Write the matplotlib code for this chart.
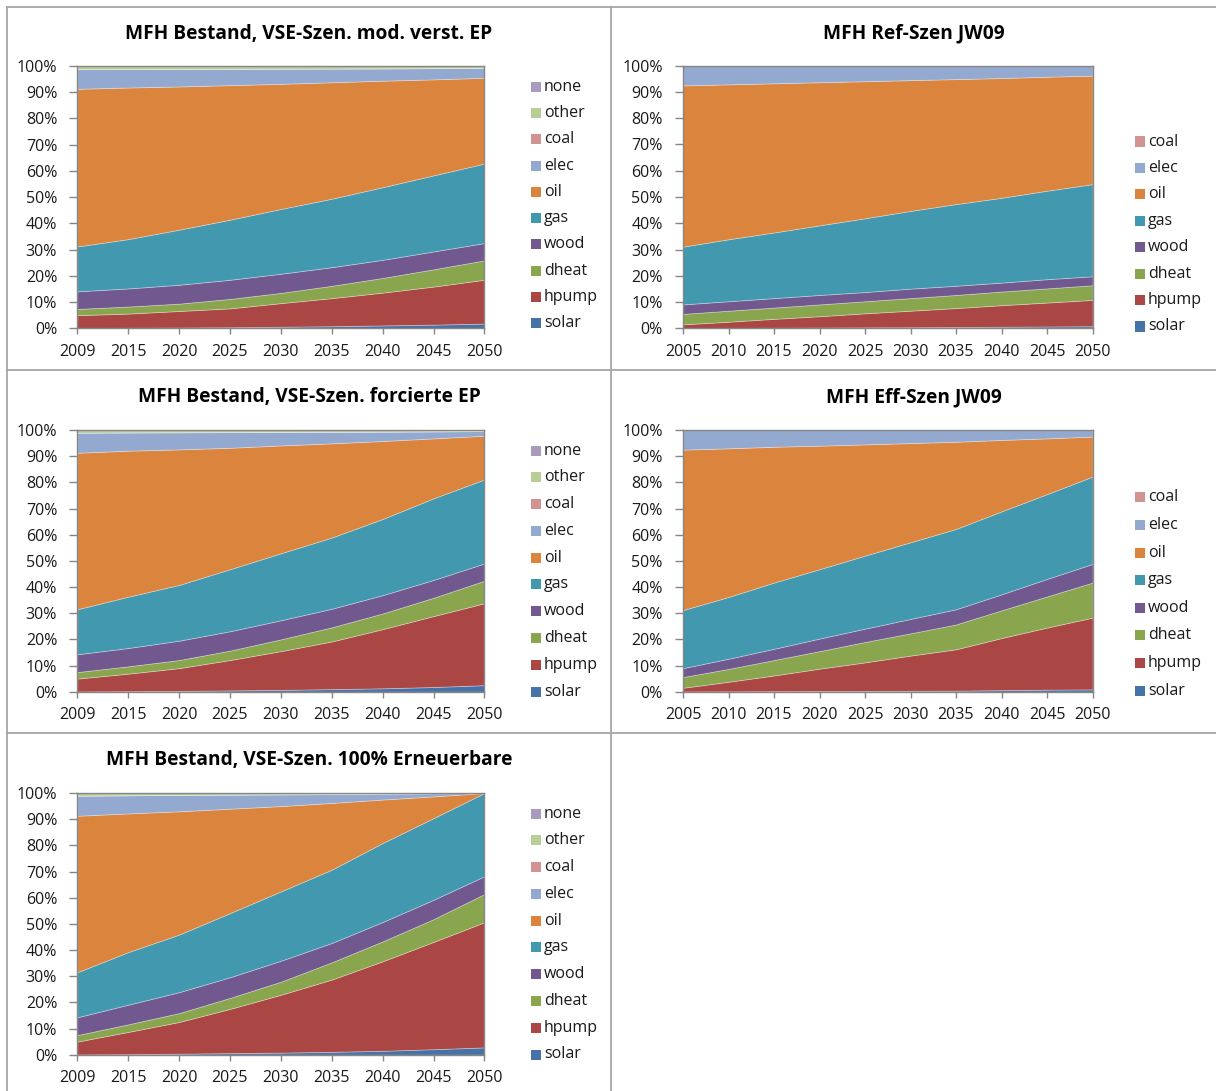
import numpy as np
import matplotlib
matplotlib.use("Agg")
import matplotlib.pyplot as plt
from matplotlib.patches import Rectangle
from matplotlib.lines import Line2D

W, H = 1216, 1091

# ---- categories -------------------------------------------------------------
years_vse = ["2009", "2015", "2020", "2025", "2030", "2035", "2040", "2045", "2050"]
years_jw = ["2005", "2010", "2015", "2020", "2025", "2030", "2035", "2040", "2045", "2050"]
carriers_vse = ["solar", "hpump", "dheat", "wood", "gas", "oil", "elec", "coal", "other", "none"]
carriers_jw = ["solar", "hpump", "dheat", "wood", "gas", "oil", "elec", "coal"]

colors = {
    "solar": "#4572A7", "hpump": "#AA4643", "dheat": "#89A54E", "wood": "#71588F",
    "gas": "#4198AF", "oil": "#DB843D", "elec": "#93A9CF", "coal": "#D19392",
    "other": "#B9CD96", "none": "#A99BBD",
}

# ---- shares in % : MFH Bestand, VSE-Szen. mod. verst. EP --------------------
mod_solar = [0.1, 0.2, 0.3, 0.4, 0.6, 0.8, 1.1, 1.4, 1.8]
mod_hpump = [4.9, 5.4, 6.3, 7.2, 9.0, 10.7, 12.5, 14.5, 16.7]
mod_dheat = [2.4, 2.7, 2.8, 3.6, 3.9, 4.7, 5.6, 6.6, 7.4]
mod_wood = [6.7, 6.9, 7.2, 7.3, 7.3, 7.1, 6.9, 6.8, 6.6]
mod_gas = [17.1, 18.8, 21.0, 22.9, 24.7, 26.1, 27.7, 29.0, 30.3]
mod_oil = [60.1, 57.8, 54.6, 51.3, 47.7, 44.4, 40.6, 36.6, 32.7]
mod_elec = [7.5, 7.05, 6.7, 6.25, 5.8, 5.25, 4.7, 4.3, 3.8]
mod_coal = [0, 0, 0, 0, 0, 0, 0, 0, 0]
mod_other = [1.2, 1.15, 1.1, 1.05, 1.0, 0.95, 0.9, 0.8, 0.7]
mod_none = [0, 0, 0, 0, 0, 0, 0, 0, 0]

# ---- MFH Ref-Szen JW09 --------------------------------------------------------
ref_solar = [0.1, 0.15, 0.2, 0.3, 0.35, 0.4, 0.5, 0.6, 0.7, 0.8]
ref_hpump = [1.4, 2.35, 3.4, 4.3, 5.35, 6.3, 7.2, 8.2, 9.1, 10.0]
ref_dheat = [4.0, 4.2, 4.3, 4.5, 4.6, 4.8, 5.0, 5.2, 5.4, 5.6]
ref_wood = [3.6, 3.6, 3.6, 3.6, 3.5, 3.6, 3.5, 3.4, 3.5, 3.4]
ref_gas = [22.0, 23.6, 25.0, 26.5, 28.1, 29.6, 31.1, 32.3, 33.7, 35.1]
ref_oil = [61.4, 59.0, 56.8, 54.5, 52.2, 49.8, 47.6, 45.6, 43.4, 41.3]
ref_elec = [7.5, 7.1, 6.7, 6.3, 5.9, 5.5, 5.1, 4.7, 4.2, 3.8]
ref_coal = [0, 0, 0, 0, 0, 0, 0, 0, 0, 0]

# ---- MFH Bestand, VSE-Szen. forcierte EP --------------------------------------
forc_solar = [0.1, 0.2, 0.3, 0.5, 0.7, 1.0, 1.3, 1.8, 2.5]
forc_hpump = [4.9, 6.7, 8.7, 11.6, 14.8, 18.2, 22.6, 27.1, 31.3]
forc_dheat = [2.5, 2.8, 3.1, 3.6, 4.5, 5.4, 6.0, 7.0, 8.6]
forc_wood = [6.8, 7.0, 7.4, 7.4, 7.3, 7.1, 7.0, 6.8, 6.6]
forc_gas = [17.2, 19.6, 21.3, 23.7, 25.6, 27.2, 29.1, 31.2, 32.1]
forc_oil = [59.8, 55.8, 51.8, 46.4, 41.2, 36.0, 29.8, 22.9, 16.7]
forc_elec = [7.7, 7.0, 6.55, 6.0, 5.2, 4.45, 3.6, 2.7, 1.8]
forc_coal = [0, 0, 0, 0, 0, 0, 0, 0, 0]
forc_other = [1.0, 0.9, 0.85, 0.8, 0.7, 0.65, 0.6, 0.5, 0.4]
forc_none = [0, 0, 0, 0, 0, 0, 0, 0, 0]

# ---- MFH Eff-Szen JW09 --------------------------------------------------------
eff_solar = [0.1, 0.15, 0.2, 0.25, 0.3, 0.35, 0.4, 0.6, 0.8, 0.9]
eff_hpump = [1.4, 3.65, 6.0, 8.55, 10.9, 13.45, 15.8, 19.9, 23.7, 27.4]
eff_dheat = [4.1, 4.9, 5.9, 6.7, 7.8, 8.5, 9.5, 10.6, 11.9, 13.4]
eff_wood = [3.4, 3.9, 4.3, 4.8, 5.1, 5.5, 5.8, 6.1, 6.7, 7.1]
eff_gas = [22.2, 23.6, 25.3, 26.5, 27.9, 29.3, 30.7, 31.7, 32.4, 33.4]
eff_oil = [61.3, 56.8, 51.9, 47.2, 42.5, 37.9, 33.3, 27.3, 21.3, 15.3]
eff_elec = [7.5, 7.0, 6.4, 6.0, 5.5, 5.0, 4.5, 3.8, 3.2, 2.5]
eff_coal = [0, 0, 0, 0, 0, 0, 0, 0, 0, 0]

# ---- MFH Bestand, VSE-Szen. 100% Erneuerbare -----------------------------------
ee_solar = [0.1, 0.2, 0.4, 0.6, 0.8, 1.1, 1.5, 2.1, 2.8]
ee_hpump = [4.9, 8.5, 12.1, 16.9, 22.1, 27.6, 34.2, 41.0, 47.8]
ee_dheat = [2.5, 2.9, 3.4, 4.2, 5.0, 6.6, 7.6, 8.7, 10.8]
ee_wood = [6.8, 7.5, 8.0, 7.9, 8.0, 7.4, 7.4, 7.4, 6.8]
ee_gas = [17.2, 20.1, 22.0, 24.5, 26.5, 28.0, 30.2, 31.2, 31.8]
ee_oil = [59.8, 53.0, 47.1, 39.9, 32.6, 25.5, 16.6, 8.3, 0.0]
ee_elec = [7.7, 6.95, 6.3, 5.4, 4.5, 3.4, 2.25, 1.2, 0.0]
ee_coal = [0, 0, 0, 0, 0, 0, 0, 0, 0]
ee_other = [1.0, 0.85, 0.7, 0.6, 0.5, 0.4, 0.25, 0.1, 0.0]
ee_none = [0, 0, 0, 0, 0, 0, 0, 0, 0]

panels = [
    dict(title="MFH Bestand, VSE-Szen. mod. verst. EP", years=years_vse, names=carriers_vse,
         data=[mod_solar, mod_hpump, mod_dheat, mod_wood, mod_gas, mod_oil, mod_elec,
               mod_coal, mod_other, mod_none],
         box=(77.3, 66.0, 484.4, 328.3), title_y=34, leg_x=531, leg_y=(87, 323)),
    dict(title="MFH Ref-Szen JW09", years=years_jw, names=carriers_jw,
         data=[ref_solar, ref_hpump, ref_dheat, ref_wood, ref_gas, ref_oil, ref_elec, ref_coal],
         box=(683, 65.7, 1092.5, 328.3), title_y=33, leg_x=1135, leg_y=(141.5, 326.5)),
    dict(title="MFH Bestand, VSE-Szen. forcierte EP", years=years_vse, names=carriers_vse,
         data=[forc_solar, forc_hpump, forc_dheat, forc_wood, forc_gas, forc_oil, forc_elec,
               forc_coal, forc_other, forc_none],
         box=(77.3, 430, 484.4, 691.7), title_y=397, leg_x=531, leg_y=(450.7, 691.5)),
    dict(title="MFH Eff-Szen JW09", years=years_jw, names=carriers_jw,
         data=[eff_solar, eff_hpump, eff_dheat, eff_wood, eff_gas, eff_oil, eff_elec, eff_coal],
         box=(683, 430, 1092.5, 691.7), title_y=397, leg_x=1135, leg_y=(497.3, 690.7)),
    dict(title="MFH Bestand, VSE-Szen. 100% Erneuerbare", years=years_vse, names=carriers_vse,
         data=[ee_solar, ee_hpump, ee_dheat, ee_wood, ee_gas, ee_oil, ee_elec,
               ee_coal, ee_other, ee_none],
         box=(77.3, 793, 484.4, 1054.7), title_y=760, leg_x=531, leg_y=(813.7, 1054.5)),
]

plt.rcParams["font.family"] = ["Open Sans", "DejaVu Sans"]
AXIS_GREY = "#868686"
FRAME_GREY = "#A6A6A6"
TEXT_COL = "#1a1a1a"

fig = plt.figure(figsize=(W / 100, H / 100), dpi=100)
fig.patch.set_facecolor("white")


def fx(px):
    return px / W


def fy(py):
    return 1 - py / H


# panel frames
frame_lines = [
    ((7, 1216), (7, 7)), ((7, 1216), (370, 370)), ((7, 1216), (733, 733)),
    ((7, 7), (7, 1091)), ((611, 611), (7, 1091)),
]
for xs, ys in frame_lines:
    fig.add_artist(Line2D([fx(x) for x in xs], [fy(y) for y in ys],
                          color=FRAME_GREY, lw=1.3, transform=fig.transFigure))

for p in panels:
    x0, y0, x1, y1 = p["box"]
    ax = fig.add_axes([fx(x0), fy(y1), (x1 - x0) / W, (y1 - y0) / H])
    vals = np.array(p["data"], dtype=float)
    shares = vals / vals.sum(axis=0) * 100.0   # 100 % stacked
    x = np.arange(len(p["years"]))
    ax.stackplot(x, *shares, colors=[colors[n] for n in p["names"]],
                 labels=p["names"], linewidth=0.6, edgecolor=(1, 1, 1, 0.35))
    ax.set_xlim(0, len(x) - 1)
    ax.set_ylim(0, 100)
    ax.set_xticks(x)
    ax.set_xticklabels(p["years"])
    ax.set_yticks(np.arange(0, 101, 10))
    ax.set_yticklabels([f"{v}%" for v in range(0, 101, 10)])
    for s in ax.spines.values():
        s.set_color(AXIS_GREY)
        s.set_linewidth(1.0)
    ax.tick_params(axis="both", colors=AXIS_GREY, labelcolor=TEXT_COL,
                   labelsize=11.5, width=1.0, direction="out")
    ax.tick_params(axis="x", length=4.5, pad=6.5)
    ax.tick_params(axis="y", length=6, pad=8.5)

    # title centred over its panel
    cx = (7 + 611) / 2 if x0 < 600 else (611 + 1216) / 2
    fig.text(fx(cx), fy(p["title_y"]), p["title"], ha="center", va="center",
             fontsize=13.8, fontweight="bold", color="black")

    # legend, top entry = last series
    names_rev = p["names"][::-1]
    ly0, ly1 = p["leg_y"]
    step = (ly1 - ly0) / (len(names_rev) - 1)
    for i, n in enumerate(names_rev):
        yc = ly0 + i * step
        fig.add_artist(Rectangle((fx(p["leg_x"]), fy(yc + 5)), 10 / W, 10 / H,
                                 facecolor=colors[n], edgecolor="none",
                                 transform=fig.transFigure))
        fig.text(fx(p["leg_x"] + 13), fy(yc), n, ha="left", va="center",
                 fontsize=11.5, color=TEXT_COL)

fig.savefig("out.png", dpi=100)
